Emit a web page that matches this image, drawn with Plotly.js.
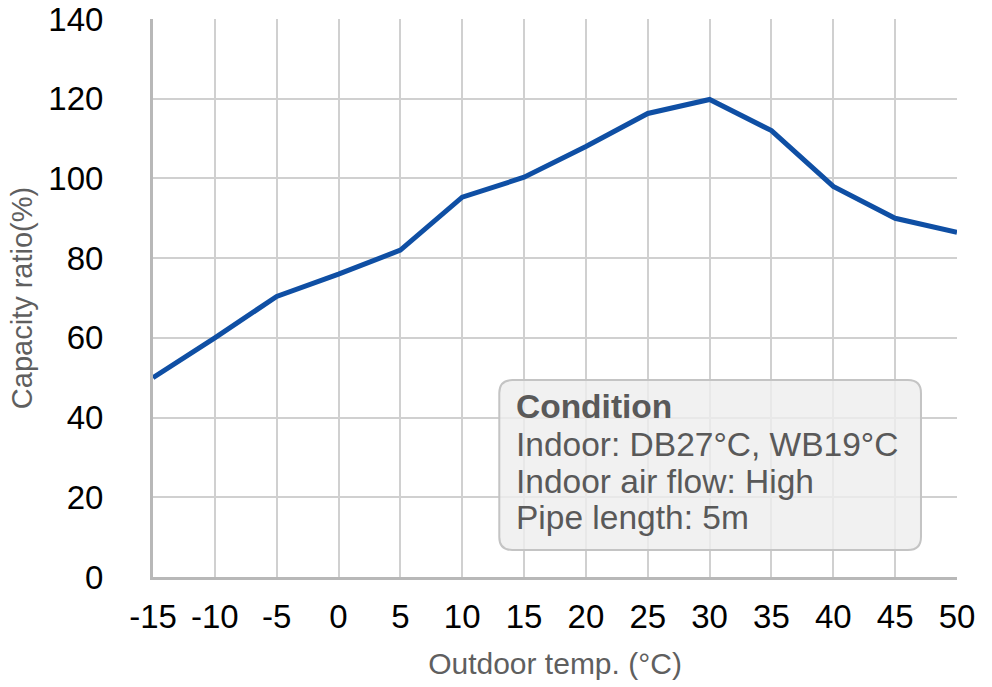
<!DOCTYPE html>
<html>
<head>
<meta charset="utf-8">
<script src="https://cdn.plot.ly/plotly-3.0.1.min.js"></script>
<style>html,body{margin:0;padding:0;background:#fff;}#chart{width:992px;height:687px;}</style>
</head>
<body>
<div id="chart"></div>
<script>
// Data
const outdoorTemp = [-15, -10, -5, 0, 5, 10, 15, 20, 25, 30, 35, 40, 45, 50];
const capacityRatio = [50, 60, 70.4, 76, 82, 95.3, 100.3, 108, 116.3, 119.8, 112, 98, 90, 86.5];
const xTickVals = [-15, -10, -5, 0, 5, 10, 15, 20, 25, 30, 35, 40, 45, 50];
const yTickVals = [0, 20, 40, 60, 80, 100, 120, 140];
const xTitle = 'Outdoor temp. (°C)';
const yTitle = 'Capacity ratio(%)';
const boxTitle = 'Condition';
const boxLines = ['Indoor: DB27°C, WB19°C', 'Indoor air flow: High', 'Pipe length: 5m'];

const FONT = '"Liberation Sans", Arial, sans-serif';

const trace = {
  x: outdoorTemp,
  y: capacityRatio,
  type: 'scatter',
  mode: 'lines',
  line: {color: '#0f4fa4', width: 5},
  hoverinfo: 'skip'
};

// box geometry (paper coords)
const bx0 = 0.4307, bx1 = 0.9552, by0 = 0.0484, by1 = 0.353;
const rx = 13 / 804, ry = 13 / 558;
const boxPath = `M ${bx0 + rx},${by0} L ${bx1 - rx},${by0} Q ${bx1},${by0} ${bx1},${by0 + ry} ` +
  `L ${bx1},${by1 - ry} Q ${bx1},${by1} ${bx1 - rx},${by1} L ${bx0 + rx},${by1} ` +
  `Q ${bx0},${by1} ${bx0},${by1 - ry} L ${bx0},${by0 + ry} Q ${bx0},${by0} ${bx0 + rx},${by0} Z`;

const lineYs = [0.306, 0.238, 0.172, 0.106];
const annTexts = ['<b>' + boxTitle + '</b>'].concat(boxLines);
const annotations = annTexts.map((t, i) => ({
  xref: 'paper', yref: 'paper',
  x: 0.4485, y: lineYs[i],
  xanchor: 'left', yanchor: 'middle',
  text: t, showarrow: false,
  font: {family: FONT, size: 33.5, color: '#595959'}
}));

const layout = {
  width: 992, height: 687,
  margin: {l: 153, r: 35, t: 19, b: 110},
  paper_bgcolor: '#ffffff',
  plot_bgcolor: '#ffffff',
  showlegend: false,
  font: {family: FONT},
  xaxis: {
    range: [-15, 50],
    tickvals: xTickVals,
    ticktext: xTickVals.map(String),
    tickfont: {family: FONT, size: 33, color: '#000000'},
    showgrid: true, gridcolor: '#d0d0d0', gridwidth: 2,
    zeroline: false,
    showline: true, linecolor: '#b8b8b8', linewidth: 3,
    ticks: '', ticklabelstandoff: 8,
    title: {text: xTitle, font: {family: FONT, size: 30, color: '#5f5f5f'}, standoff: 20},
    fixedrange: true
  },
  yaxis: {
    range: [0, 140],
    tickvals: yTickVals,
    ticktext: yTickVals.map(String),
    tickfont: {family: FONT, size: 33, color: '#000000'},
    showgrid: true, gridcolor: '#d0d0d0', gridwidth: 2,
    zeroline: false,
    showline: true, linecolor: '#b8b8b8', linewidth: 3,
    ticks: '', ticklabelstandoff: 40,
    title: {text: yTitle, font: {family: FONT, size: 29, color: '#5f5f5f'}, standoff: 8},
    fixedrange: true
  },
  shapes: [{
    type: 'path', xref: 'paper', yref: 'paper', path: boxPath,
    fillcolor: 'rgba(238,238,238,0.8)',
    line: {color: '#c4c4c4', width: 2},
    layer: 'above'
  }],
  annotations: annotations
};

Plotly.newPlot('chart', [trace], layout, {staticPlot: true, displayModeBar: false});
</script>
</body>
</html>
